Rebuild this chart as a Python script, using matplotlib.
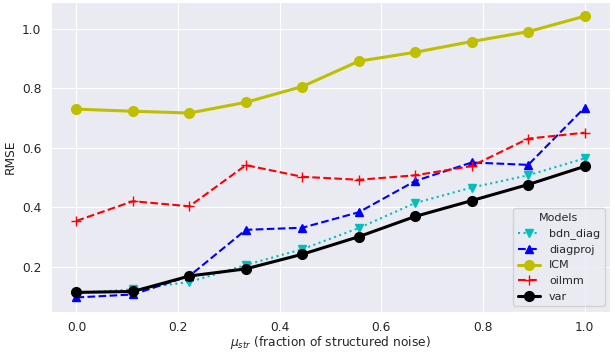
import numpy as np
import matplotlib
matplotlib.use("Agg")
import matplotlib.pyplot as plt
import seaborn as sns

# fraction of structured noise (10 evenly spaced settings)
mu_str = np.linspace(0.0, 1.0, 10)

# RMSE per model
bdn_diag = [0.113, 0.125, 0.150, 0.207, 0.260, 0.331, 0.415, 0.467, 0.508, 0.565]
diagproj = [0.098, 0.108, 0.170, 0.325, 0.332, 0.384, 0.489, 0.551, 0.543, 0.735]
icm = [0.730, 0.723, 0.717, 0.753, 0.806, 0.891, 0.921, 0.957, 0.990, 1.042]
oilmm = [0.355, 0.421, 0.404, 0.542, 0.503, 0.493, 0.508, 0.539, 0.631, 0.651]
var = [0.115, 0.118, 0.170, 0.194, 0.243, 0.302, 0.370, 0.423, 0.477, 0.538]

sns.set_style("darkgrid")
plt.rcParams["axes.labelsize"] = 8.8
plt.rcParams["xtick.labelsize"] = 8.8
plt.rcParams["ytick.labelsize"] = 8.8

fig, ax = plt.subplots(figsize=(6.15, 3.54), dpi=100)

ax.plot(mu_str, bdn_diag, "c:v", label="bdn_diag")
ax.plot(mu_str, diagproj, "b--^", label="diagproj")
ax.plot(mu_str, icm, "y-o", linewidth=2.2, markersize=7, label="ICM")
ax.plot(mu_str, oilmm, "r--+", markersize=7, label="oilmm")
ax.plot(mu_str, var, "k-o", linewidth=2.2, markersize=7, label="var")

ax.tick_params(axis="x", pad=3)
ax.set_xlabel(r"$\mu_{str}$ (fraction of structured noise)", labelpad=0)
ax.set_ylabel("RMSE")
ax.legend(title="Models", loc="lower right", fontsize=8, title_fontsize=8)

fig.subplots_adjust(left=0.083, right=0.992, top=0.994, bottom=0.12)
plt.savefig("out.png")
plt.close(fig)
